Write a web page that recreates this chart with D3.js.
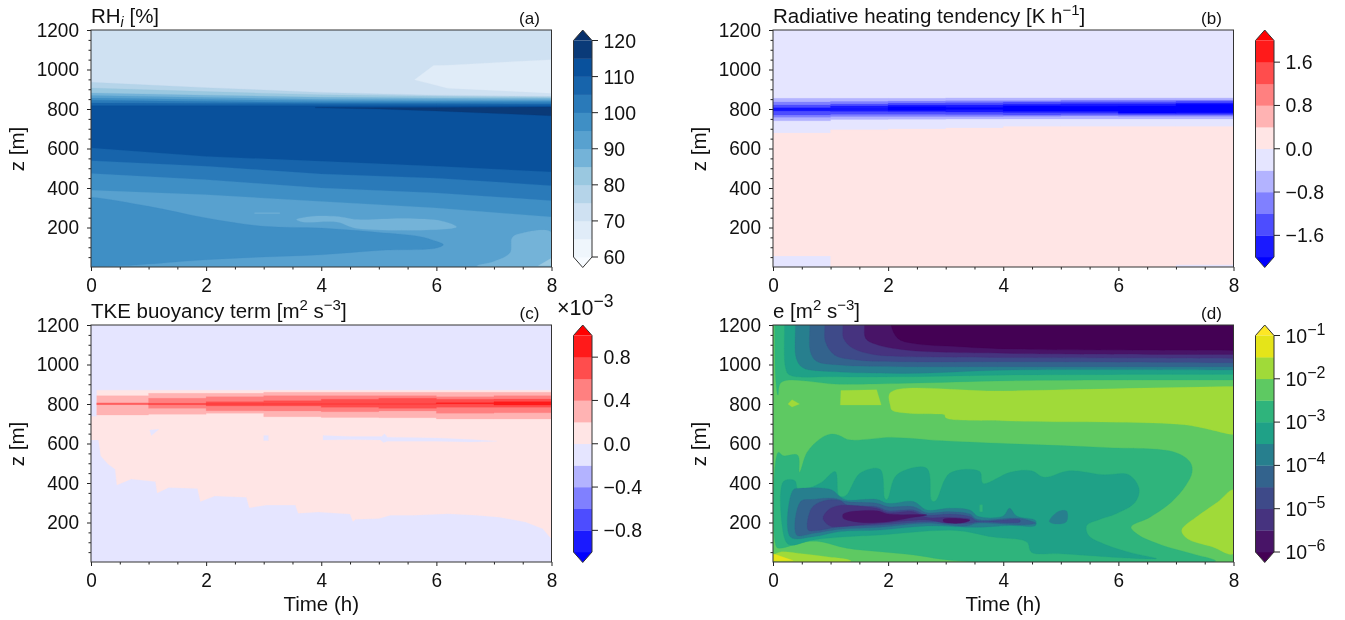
<!DOCTYPE html>
<html><head><meta charset="utf-8">
<style>html,body{margin:0;padding:0;background:#fff}svg{display:block;filter:blur(.35px)}text{font-family:"Liberation Sans",Arial,sans-serif;fill:#111}</style>
<script src="https://d3js.org/d3.v7.min.js"></script></head>
<body><svg id="c" width="1345" height="620"></svg>
<script>
// ---------- shared ticks ----------
const timeTicks=[0,2,4,6,8], timeMinor=[0.5,1,1.5,2.5,3,3.5,4.5,5,5.5,6.5,7,7.5];
const zTicks=[200,400,600,800,1000,1200], zMinor=[50,100,150,250,300,350,450,500,550,650,700,750,850,900,950,1050,1100,1150];
const hourEdges=[0,1,2,3,4,5,6,7,8];

// ---------- colour levels ----------
const rhLevels=[60,65,70,75,80,85,90,95,100,105,110,115,120];
const rhColors=['#f7fbff','#eff6fc','#e0ecf8','#cfe1f2','#b5d4e9','#9ac8e0','#74b3d8','#58a1cf','#3f8fc5','#2a7ab9','#1764ab','#09519c','#0a3a78','#08306b'];
const rhTickVals=[60,70,80,90,100,110,120], rhTickText=['60','70','80','90','100','110','120'];
const divColors=['#0000ff','#1a1aff','#4d4dff','#8080ff','#b3b3ff','#e5e5ff','#ffe5e5','#ffb3b3','#ff8080','#ff4d4d','#ff1a1a','#ff0000'];
const radLevels=[-2,-1.6,-1.2,-0.8,-0.4,0,0.4,0.8,1.2,1.6,2];
const radTickVals=[-1.6,-0.8,0,0.8,1.6], radTickText=['\u22121.6','\u22120.8','0.0','0.8','1.6'];
const tkeLevels=[-1,-0.8,-0.6,-0.4,-0.2,0,0.2,0.4,0.6,0.8,1];
const tkeTickVals=[-0.8,-0.4,0,0.4,0.8], tkeTickText=['\u22120.8','\u22120.4','0.0','0.4','0.8'];
const eLevels=[-6,-5.5,-5,-4.5,-4,-3.5,-3,-2.5,-2,-1.5,-1];
const eColors=['#440154','#481467','#46337f','#3e4a89','#33638d','#277f8e','#1fa187','#2fb47c','#5ec962','#a0da39','#e5e419','#fde725'];
const eTickVals=[-6,-5,-4,-3,-2,-1];

// ---------- panel a: RHi, curves as z(t) ----------
const rhTopTimes=[0,2,4,6,8];
const rh75Top=[935,908,884,870,864], rh80Top=[906,888,872,864,860], rh85Top=[881,870,860,856,854];
const rh90Top=[868,858,850,848,847], rh95Top=[856,848,842,841,840], rh100Top=[844,838,833,833,833];
const rh105Top=[830,828,827,826,825], rh110Top=[817,817,817,817,817];
const rhLow105=[602,560,535,510,481], rhLow100=[538,510,471,450,412], rhLow95=[473,442,400,375,336], rhLow90=[388,366,332,299,253];
const rhPatchTop=[[5.62,948],[5.95,1020],[6.2,1022],[8,1050],[8,880],[6.2,905]];
const rhSliver=[[3.9,808],[6,807],[8,810],[8,766],[6,790],[5,800],[3.9,806]];
const rhCore95=[[0,353],[1,307],[2,248],[3,206],[4,197],[5,175],[5.7,155],[6,130],[6.12,113],[6,96],[5,84],[4,62],[3,51],[2,37],[1,15],[0.6,7],[0,3],[-0.5,3],[-0.5,353]];
const rhCore85=[[3.57,240],[3.83,256],[4.27,256],[4.63,240],[5.44,245],[6.1,232],[6.35,203],[4.63,195],[4.27,228],[3.68,228]];
const rhSpeck85=[[2.84,275],[3.28,275],[3.28,271],[2.84,271]];
const rhCorner85=[[8,175],[7.5,172],[7.32,150],[7.28,72],[7,28],[6.7,6],[8,6]];
const rhCorner80=[[7.77,6],[8,45],[8,6]];

// ---------- panel b: radiative tendency, one step per hour ----------
const radPinkTop=[678,695,699,704,712,712,712,712];
const radN04Hi=[854,854,854,856,856,856,856,856], radN04Lo=[741,747,748,749,750,750,750,750];
const radN08Hi=[835,838,840,842,842,845,845,845], radN08Lo=[758,762,762,762,763,765,763,763];
const radN12Hi=[820,825,830,832,835,837,837,840], radN12Lo=[770,773,773,772,770,772,770,770];
const radN16Hi=[806,815,820,820,824,826,826,831], radN16Lo=[790,788,787,785,782,782,780,777];
const radN20Hi=[800,800,812,808,815,814,815,824], radN20Lo=[800,800,794,797,790,790,778,782];
const radFloor=[56,0,0,0,0,0,0,12];

// ---------- panel c: TKE buoyancy ----------
const tkePink=[[0.1,870],[8,870],[8,117],[7.85,168],[7.55,202],[7.1,227],[6.7,237],[6.2,244],[5.6,237],[5.2,237],[5.0,220],[4.6,217],[4.55,205],[4.5,243],[3.95,253],[3.6,247],[3.55,288],[3.05,288],[2.75,275],[2.7,328],[2.15,334],[1.9,306],[1.85,372],[1.35,377],[1.15,350],[1.12,407],[0.7,420],[0.45,390],[0.42,470],[0.3,495],[0.17,537],[0.13,618],[0,618],[0,737],[0.1,737]];
const tkeP02Hi=[842,854,854,859,859,859,859,859], tkeP02Lo=[744,748,753,736,732,731,724,724];
const tkeP04Hi=[806,829,837,842,842,842,837,842], tkeP04Lo=[797,778,766,765,761,765,753,756];
const tkeP06Hi=[800,803,812,817,824,829,824,825], tkeP06Lo=[800,797,790,790,783,778,783,783];
const tkeP08Hi=[800,800,800,800,800,800,806,812], tkeP08Lo=[800,800,800,800,800,800,801,795];
const tkeSpeckA=[[1.02,668],[1.18,672],[1.05,640]];
const tkeSpeckB=[[3.0,640],[3.08,640],[3.08,615],[3.0,615]];
const tkeSpeckC=[[4.03,640],[4.5,635],[5.05,635],[5.1,650],[5.15,632],[6,628],[6.6,620],[7.05,612],[6.6,608],[6,612],[5.15,612],[5.08,605],[5.03,618],[4.5,620],[4.03,618]];
const tkeHead=[0.1,1];

// ---------- panel d: e, regions in (t, z) ----------
const eTop1=[[0.03,1300],[0.03,1200],[0.05,913],[0.087,845],[0.145,910],[1.16,900],[2.31,905],[4.17,918],[8,921],[9,921],[9,1300]];
const eTop2=[[0.2,1300],[0.2,1200],[0.22,980],[0.29,947],[1.04,938],[2.31,938],[4.17,947],[8,950],[9,950],[9,1300]];
const eTop3=[[0.39,1300],[0.39,1200],[0.405,1031],[0.52,984],[1.04,964],[2.31,955],[4.17,972],[8,972],[9,972],[9,1300]];
const eTop4=[[0.64,1300],[0.64,1200],[0.65,1065],[0.75,1018],[1.16,997],[2.31,989],[4.17,989],[8,989],[9,989],[9,1300]];
const eTop5=[[0.9,1300],[0.9,1200],[0.91,1116],[1.07,1048],[1.45,1023],[2.31,1014],[4.17,1014],[8,1009],[9,1009],[9,1300]];
const eTop6=[[1.215,1300],[1.215,1200],[1.227,1132],[1.39,1082],[1.74,1051],[2.31,1040],[4.17,1035],[8,1031],[9,1031],[9,1300]];
const eTop7=[[1.59,1300],[1.59,1200],[1.61,1132],[1.79,1102],[2.31,1073],[4.17,1056],[8,1051],[9,1051],[9,1300]];
const eTop8=[[2.05,1300],[2.05,1200],[2.17,1132],[2.43,1107],[3.24,1090],[4.17,1078],[8,1071],[9,1071],[9,1300]];
const eLime=[[2.04,858],[4,866],[8,888],[9,888],[9,640],[8,645],[7.6,670],[7.15,695],[6,708],[4.9,710],[4,715],[3,730],[2.98,745],[2.8,750],[2.4,752],[2.07,768],[2.04,790]];
const eLime2=[[1.18,868],[1.8,872],[1.88,795],[1.17,795]];
const eLimeDot=[[0.26,800],[0.33,822],[0.46,800],[0.33,785]];
const eLimeRight=[[8,365],[7.72,302],[7.39,235],[7.1,160],[7.2,118],[7.64,76],[8,42]];
const eFloorLime=[[0,6],[0,30],[0.12,50],[0.5,42],[0.9,28],[1.35,8],[1.35,4]];
const eFloorYellow=[[0,42],[0.07,35],[0.35,8],[0,5]];
const eGreen=[[0.06,76],[0.09,555],[0.18,538],[0.43,541],[0.46,454],[0.59,555],[0.81,622],[0.99,647],[1.14,642],[1.32,619],[2.06,631],[2.94,614],[4.27,597],[5.74,580],[6.99,555],[7.25,504],[7.28,454],[7.17,387],[6.92,303],[6.55,227],[6.22,177],[6.36,135],[6.77,84],[7.28,42],[7.69,5],[3.24,5],[2.44,36],[1.86,52],[1.28,70],[0.82,103],[0.58,103],[0.12,70]];
const eTeal=[[0.21,112],[0.18,407],[0.38,412],[0.44,365],[0.82,399],[1.08,458],[1.14,339],[1.2,330],[1.28,339],[1.51,449],[1.86,469],[1.94,323],[1.97,315],[2,323],[2.15,441],[2.67,475],[2.75,314],[2.79,306],[2.84,314],[3.07,449],[3.59,458],[3.65,398],[4.12,454],[4.49,462],[4.71,429],[5.15,462],[5.74,442],[6.18,442],[6.36,370],[6.29,303],[5.96,244],[5.67,215],[5.45,185],[5.48,135],[5.74,92],[6.18,50],[6.66,17],[6.36,17],[5,42],[4.49,50],[4.41,101],[3.83,126],[3.16,160],[1.86,137],[1.28,128],[0.7,112],[0.3,86]];
const eNotch=[[3.59,290],[3.64,290],[3.64,255],[3.59,255]];
const eBlue1=[[0.3,128],[0.35,365],[0.47,373],[1.02,365],[1.16,331],[1.28,314],[1.8,317],[2,297],[2.44,306],[2.67,263],[3.07,272],[3.42,263],[3.57,230],[4,233],[4.11,272],[4.23,233],[4.56,210],[4.56,185],[4.12,185],[3.6,176],[3.42,176],[2.67,182],[1.86,162],[1.16,154],[0.7,128]];
const eBlue1Dot=[[4.8,205],[4.95,255],[5.1,258],[5.1,205],[4.95,192]];
const eBlue2=[[0.41,137],[0.48,306],[0.7,317],[1.05,323],[1.28,306],[1.8,297],[2,280],[2.44,280],[2.67,250],[3.07,255],[3.42,243],[3.54,216],[4.29,221],[4.56,196],[4.34,188],[3.54,196],[3.36,182],[2.67,196],[1.86,176],[1.16,166],[0.7,145]];
const eIndigo=[[0.61,162],[0.67,272],[0.87,309],[1.16,311],[1.28,289],[1.8,280],[2,260],[2.44,263],[2.67,238],[3.07,243],[3.42,230],[3.54,209],[4.29,213],[4.29,203],[3.54,203],[3.42,196],[2.67,204],[1.86,187],[1.16,179],[0.76,159]];
const eViolet=[[0.87,221],[0.96,263],[1.13,285],[1.8,272],[2,250],[2.44,255],[2.67,226],[3.07,226],[3.42,216],[3.07,196],[2.67,213],[1.86,196],[1.16,179],[0.99,182]];
const eDeep=[[1.22,221],[1.22,243],[1.8,260],[2,243],[2.67,238],[2.44,226],[2,204],[1.57,199],[1.28,213]];
const eDeep2=[[2.96,216],[3.36,216],[3.42,210],[3.25,196],[2.96,205]];

// ---------- layout ----------
const svg=d3.select('#c');
const W=460.5,H=237;
const layout={a:[91,30],b:[773,30],c:[91,325],d:[773,325]};
const smooth=d3.curveCatmullRomClosed.alpha(.5);
let clipN=0;
function panel(key){
  const [L,T]=layout[key];
  const x=d3.scaleLinear([0,8],[L,L+W]), y=d3.scaleLinear([0,1200],[T+H,T]);
  const id='clip'+(clipN++);
  svg.append('clipPath').attr('id',id).append('rect').attr('x',L).attr('y',T).attr('width',W).attr('height',H);
  const plot=svg.append('g').attr('clip-path',`url(#${id})`);
  const line=d3.line().x(d=>x(d[0])).y(d=>y(d[1]));
  const softLine=d3.line().x(d=>x(d[0])).y(d=>y(d[1])).curve(smooth);
  const area=(pts,c)=>plot.append('path').attr('d',line(pts)+'Z').attr('fill',c).attr('stroke',c).attr('stroke-width',.25);
  const soft=(pts,c)=>plot.append('path').attr('d',softLine(pts)).attr('fill',c).attr('stroke',c).attr('stroke-width',.25);
  return {x,y,plot,area,soft,L,T};
}
function curveDown(ts,zs){return ts.map((t,i)=>[t,zs[i]]).concat([[ts[ts.length-1],0],[ts[0],0]]);}
function steps(edges,hi,lo){ // stepped band between hi and lo, one value per hour
  const top=[],bot=[];
  hi.forEach((v,i)=>{top.push([edges[i],v],[edges[i+1],v]);});
  lo.forEach((v,i)=>{bot.push([edges[i],v],[edges[i+1],v]);});
  return top.concat(bot.reverse());
}
function axes(p,xTitle){
  const {x,y,L,T}=p;
  const ax=svg.append('g');
  const gy=ax.append('g').attr('transform',`translate(${L},0)`);
  gy.call(d3.axisLeft(y).tickValues(zTicks).tickSize(4).tickPadding(8).tickFormat(d3.format('d')));
  const gym=ax.append('g').attr('transform',`translate(${L},0)`);
  gym.call(d3.axisLeft(y).tickValues(zMinor).tickSize(2.5).tickFormat(''));
  const gx=ax.append('g').attr('transform',`translate(0,${T+H})`);
  gx.call(d3.axisBottom(x).tickValues(timeTicks).tickSize(4).tickPadding(7).tickFormat(d3.format('d')));
  const gxm=ax.append('g').attr('transform',`translate(0,${T+H})`);
  gxm.call(d3.axisBottom(x).tickValues(timeMinor).tickSize(2.5).tickFormat(''));
  ax.selectAll('.domain').remove();
  ax.selectAll('line').attr('stroke','#222').attr('stroke-width',1);
  ax.selectAll('text').attr('font-size',20).attr('fill','#111').attr('font-family','"Liberation Sans",Arial,sans-serif')
    .each(function(){ if(this.textContent) {const n=this.getComputedTextLength(); d3.select(this).attr('textLength',n*.95).attr('lengthAdjust','spacingAndGlyphs');}});
  ax.append('rect').attr('x',L).attr('y',T).attr('width',W).attr('height',H).attr('fill','none').attr('stroke','#333').attr('stroke-width',1);
  ax.append('text').attr('transform',`translate(${L-67},${T+119}) rotate(-90)`).attr('text-anchor','middle').attr('font-size',20.5).text('z [m]');
  if(xTitle) ax.append('text').attr('x',L+W/2).attr('y',T+H+49).attr('text-anchor','middle').attr('font-size',20.5).text('Time (h)');
}
function rich(sel,parts){
  parts.forEach(pt=>{
    const s=sel.append('tspan').text(pt.t);
    if(pt.sup){s.attr('dy',-8).attr('font-size',pt.fs||15);}
    if(pt.sub){s.attr('dy',4).attr('font-size',14).attr('font-style','italic');}
    if(pt.back){s.attr('dy',pt.back);}
  });
}
function titles(p,parts,tag){
  const t=svg.append('text').attr('x',p.L).attr('y',p.T-7).attr('font-size',20.5);
  rich(t,parts);
  svg.append('text').attr('x',p.L+W-22).attr('y',p.T-6).attr('text-anchor','middle').attr('font-size',17).text(tag);
}
function colorbar(L,T,levels,colors,tickVals,tickText){
  const lo=levels[0],hi=levels[levels.length-1];
  const top=T+10.5,bot=T+227;
  const y=d3.scaleLinear([lo,hi],[bot,top]);
  const w=18.5,tip=10.5;
  const g=svg.append('g');
  g.append('path').attr('d',d3.line()([[L,y(lo)],[L+w/2,y(lo)+tip],[L+w,y(lo)]])+'Z').attr('fill',colors[0]);
  g.append('path').attr('d',d3.line()([[L,y(hi)],[L+w/2,y(hi)-tip],[L+w,y(hi)]])+'Z').attr('fill',colors[colors.length-1]);
  d3.pairs(levels).forEach(([a,b],i)=>{
    g.append('rect').attr('x',L).attr('width',w).attr('y',y(b)).attr('height',y(a)-y(b)+.3).attr('fill',colors[i+1]);
  });
  g.append('path').attr('d',d3.line()([[L,y(hi)],[L+w/2,y(hi)-tip],[L+w,y(hi)],[L+w,y(lo)],[L+w/2,y(lo)+tip],[L,y(lo)]])+'Z')
    .attr('fill','none').attr('stroke','#333').attr('stroke-width',1);
  tickVals.forEach((v,i)=>{
    g.append('line').attr('x1',L+w).attr('x2',L+w+6).attr('y1',y(v)).attr('y2',y(v)).attr('stroke','#222');
    const t=g.append('text').attr('x',L+w+11.5).attr('y',y(v)+7).attr('font-size',19.5);
    if(tickText) t.text(tickText[i]);
    else rich(t,[{t:'10'},{t:'\u2212'+Math.abs(v),sup:true,fs:16}]);
  });
}

// ---------- draw panel a ----------
const pa=panel('a');
pa.area([[0,0],[8,0],[8,1200],[0,1200]],rhColors[3]);
pa.area(rhPatchTop,rhColors[2]);
[[rh75Top,4],[rh80Top,5],[rh85Top,6],[rh90Top,7],[rh95Top,8],[rh100Top,9],[rh105Top,10],[rh110Top,11]]
  .forEach(([c,i])=>pa.area(curveDown(rhTopTimes,c),rhColors[i]));
pa.area(rhSliver,rhColors[12]);
[[rhLow105,10],[rhLow100,9],[rhLow95,8],[rhLow90,7]].forEach(([c,i])=>pa.area(curveDown(rhTopTimes,c),rhColors[i]));
pa.soft(rhCore95,rhColors[8]);
pa.soft(rhCore85,rhColors[6]);
pa.area(rhSpeck85,rhColors[6]);
pa.soft(rhCorner85,rhColors[6]);
pa.area(rhCorner80,rhColors[5]);
axes(pa,false);
titles(pa,[{t:'RH'},{t:'i',sub:true},{t:' [%]',back:-4}],'(a)');
colorbar(573.5,30,rhLevels,rhColors,rhTickVals,rhTickText);

// ---------- draw panel b ----------
const pb=panel('b');
pb.area([[0,0],[8,0],[8,1200],[0,1200]],divColors[5]);
pb.area(steps(hourEdges,radPinkTop,radFloor),divColors[6]);
[[radN04Hi,radN04Lo,4],[radN08Hi,radN08Lo,3],[radN12Hi,radN12Lo,2],[radN16Hi,radN16Lo,1],[radN20Hi,radN20Lo,0]]
  .forEach(([h,l,i])=>pb.area(steps(hourEdges,h,l),divColors[i]));
axes(pb,false);
titles(pb,[{t:'Radiative heating tendency [K h'},{t:'\u22121',sup:true},{t:']',back:8}],'(b)');
colorbar(1255.5,30,radLevels,divColors,radTickVals,radTickText);

// ---------- draw panel c ----------
const pc=panel('c');
pc.area([[0,0],[8,0],[8,1200],[0,1200]],divColors[5]);
pc.area(tkePink,divColors[6]);
[tkeSpeckA,tkeSpeckB,tkeSpeckC].forEach(s=>pc.area(s,divColors[5]));
const tkeEdges=[tkeHead[0]].concat(hourEdges.slice(1));
[[tkeP02Hi,tkeP02Lo,7],[tkeP04Hi,tkeP04Lo,8],[tkeP06Hi,tkeP06Lo,9],[tkeP08Hi,tkeP08Lo,10]]
  .forEach(([h,l,i])=>pc.area(steps(tkeEdges,h,l),divColors[i]));
axes(pc,true);
titles(pc,[{t:'TKE buoyancy term [m'},{t:'2',sup:true},{t:' s',back:8},{t:'\u22123',sup:true},{t:']',back:8}],'(c)');
colorbar(573.5,325,tkeLevels,divColors,tkeTickVals,tkeTickText);
const expo=svg.append('text').attr('x',557).attr('y',315).attr('font-size',21.5);
rich(expo,[{t:'\u00d710'},{t:'\u22123',sup:true,fs:17.5}]);

// ---------- draw panel d ----------
const pd=panel('d');
pd.area([[0,0],[8,0],[8,1200],[0,1200]],eColors[8]);
pd.soft(eLime,eColors[9]);
pd.area(eLime2,eColors[9]);
pd.area(eLimeDot,eColors[9]);
pd.soft(eLimeRight,eColors[9]);
pd.soft(eFloorLime,eColors[9]);
pd.area(eFloorYellow,eColors[10]);
[[eTop1,7],[eTop2,6],[eTop3,5],[eTop4,4],[eTop5,3],[eTop6,2],[eTop7,1],[eTop8,0]].forEach(([a,i])=>pd.soft(a,eColors[i]));
[[eGreen,7],[eTeal,6]].forEach(([a,i])=>pd.soft(a,eColors[i]));
pd.area(eNotch,eColors[7]);
[[eBlue1,5],[eBlue1Dot,5],[eBlue2,4],[eIndigo,3],[eViolet,2],[eDeep,1],[eDeep2,1]].forEach(([a,i])=>pd.soft(a,eColors[i]));
axes(pd,true);
titles(pd,[{t:'e [m'},{t:'2',sup:true},{t:' s',back:8},{t:'\u22123',sup:true},{t:']',back:8}],'(d)');
colorbar(1255.5,325,eLevels,eColors,eTickVals,null);
</script></body></html>
